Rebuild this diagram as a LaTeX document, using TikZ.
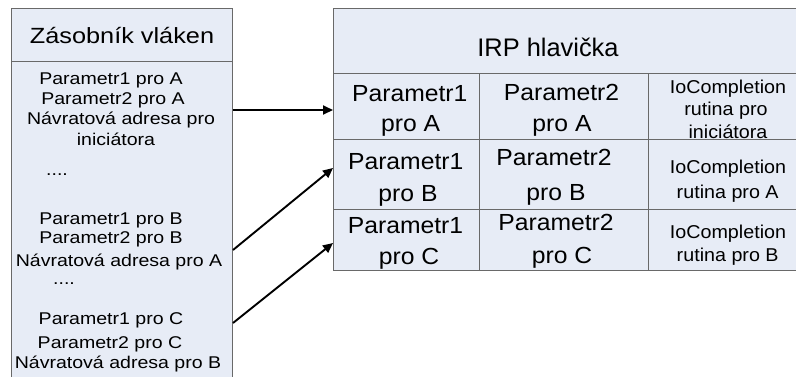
\documentclass[tikz,border=0pt]{standalone}
\usepackage{fontspec}
\setmainfont{Liberation Sans}
\newfontfamily\lfont{Liberation Sans}[FakeStretch=1.15]
\newfontfamily\rfont{Liberation Sans}[FakeStretch=1.06]
\usetikzlibrary{arrows.meta}
\definecolor{boxfill}{RGB}{231,236,246}
\definecolor{boxline}{RGB}{105,105,105}
\begin{document}
\begin{tikzpicture}[x=1pt,y=-1pt,
  txt/.style={inner sep=0pt, anchor=base},
  ltitle/.style={txt, font=\lfont\fontsize{22}{26}\selectfont},
  lbody/.style={txt, font=\lfont\fontsize{17}{20}\selectfont},
  rhead/.style={txt, font=\fontsize{25.4}{30}\selectfont},
  rcell/.style={txt, font=\rfont\fontsize{23.3}{28}\selectfont},
  rsmall/.style={txt, font=\rfont\fontsize{18.6}{22}\selectfont},
  panel/.style={draw=boxline, fill=boxfill, line width=1pt, inner sep=0pt, anchor=north west},
  grid/.style={draw=boxline, line width=1pt},
  link/.style={line width=1.9pt, -{Triangle[length=10pt,width=9pt]}}]
\useasboundingbox (0,0) rectangle (796,376);
% left panel
\node[panel, minimum width=221pt, minimum height=372pt] (stack) at (11,8) {};
\draw[grid] (stack.west |- 0,61) -- (stack.east |- 0,61);
\node[ltitle] (t0) at (122,43.3) {Zásobník vláken};
\node[lbody] (a1) at (111,84.5) {Parametr1 pro A};
\node[lbody] (a2) at (113,104) {Parametr2 pro A};
\node[lbody] (a3) at (121,124.5) {Návratová adresa pro};
\node[lbody] (a4) at (116,145) {iniciátora};
\node[lbody] (d1) at (57,175) {....};
\node[lbody] (b1) at (111,224) {Parametr1 pro B};
\node[lbody] (b2) at (111,243.5) {Parametr2 pro B};
\node[lbody] (b3) at (119,266) {Návratová adresa pro A};
\node[lbody] (d2) at (64,284) {....};
\node[lbody] (c1) at (111,324) {Parametr1 pro C};
\node[lbody] (c2) at (110,348) {Parametr2 pro C};
\node[lbody] (c3) at (118,368) {Návratová adresa pro B};
% right panel
\node[panel, minimum width=464pt, minimum height=262pt] (irp) at (333,8) {};
\draw[grid] (irp.west |- 0,73) -- (irp.east |- 0,73);
\draw[grid] (irp.west |- 0,139) -- (irp.east |- 0,139);
\draw[grid] (irp.west |- 0,209) -- (irp.east |- 0,209);
\draw[grid] (479,73) -- (479,270);
\draw[grid] (648,73) -- (648,270);
\node[rhead] (h) at (548,56.7) {IRP hlavička};
% column 1
\node[rcell] (p1a) at (409.8,101.3) {Parametr1};
\node[rcell] (p1b) at (410.7,131.3) {pro A};
\node[rcell] (p2a) at (405.7,169.7) {Parametr1};
\node[rcell] (p2b) at (408,201.3) {pro B};
\node[rcell] (p3a) at (405.5,233) {Parametr1};
\node[rcell] (p3b) at (409,264.7) {pro C};
% column 2
\node[rcell] (q1a) at (561.5,100) {Parametr2};
\node[rcell] (q1b) at (562,131.5) {pro A};
\node[rcell] (q2a) at (554,165) {Parametr2};
\node[rcell] (q2b) at (556,200) {pro B};
\node[rcell] (q3a) at (556,230) {Parametr2};
\node[rcell] (q3b) at (562,263) {pro C};
% column 3
\node[rsmall] (i1a) at (728,93) {IoCompletion};
\node[rsmall] (i1b) at (726,115.5) {rutina pro};
\node[rsmall] (i1c) at (728,138) {iniciátora};
\node[rsmall] (i2a) at (728,173) {IoCompletion};
\node[rsmall] (i2b) at (727.7,198) {rutina pro A};
\node[rsmall] (i3a) at (728,238) {IoCompletion};
\node[rsmall] (i3b) at (727.7,261.3) {rutina pro B};
% connectors
\coordinate (s1) at (0,110);
\coordinate (e1) at (0,110);
\coordinate (s2) at (0,250);
\coordinate (e2) at (0,168);
\coordinate (s3) at (0,323);
\coordinate (e3) at (0,243);
\draw[link] (stack.east |- s1) -- (irp.west |- e1);
\draw[link] (stack.east |- s2) -- (irp.west |- e2);
\draw[link] (stack.east |- s3) -- (irp.west |- e3);
\end{tikzpicture}
\end{document}
